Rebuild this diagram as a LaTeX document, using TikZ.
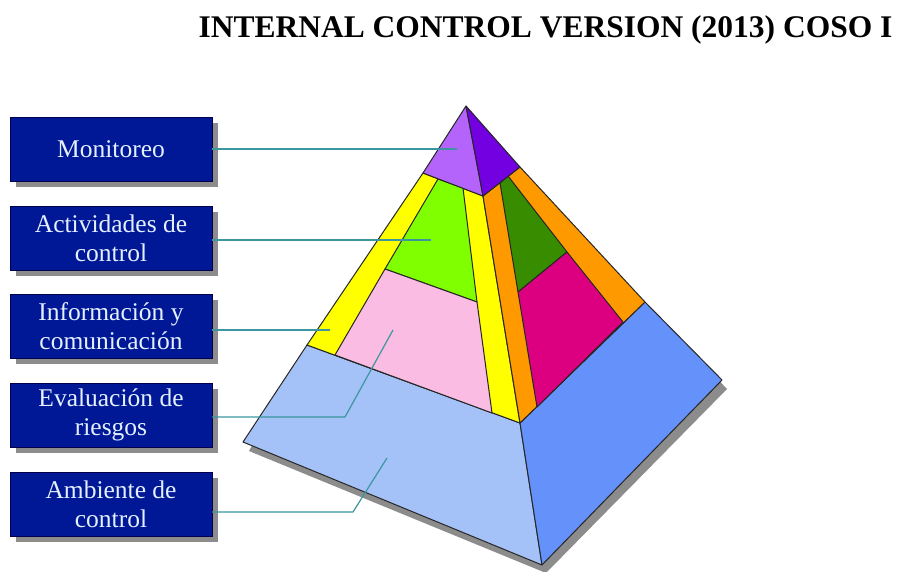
\documentclass[tikz,border=0pt]{standalone}
\usepackage{fontspec}
\setmainfont{Liberation Serif}
\usepackage{tikz}
\usetikzlibrary{shadows}

\definecolor{lilac}{RGB}{180,100,250}
\definecolor{violet}{RGB}{115,0,225}
\definecolor{lemon}{RGB}{255,255,0}
\definecolor{lime}{RGB}{128,255,0}
\definecolor{rose}{RGB}{250,188,226}
\definecolor{amber}{RGB}{255,153,0}
\definecolor{leaf}{RGB}{56,140,0}
\definecolor{fuchsia}{RGB}{220,0,128}
\definecolor{baselight}{RGB}{164,194,248}
\definecolor{basedark}{RGB}{100,145,250}
\definecolor{boxblue}{RGB}{0,24,150}
\definecolor{boxtext}{RGB}{228,240,255}
\definecolor{pointer}{RGB}{60,150,160}

\tikzset{
  face/.style={draw=black!85, line width=1pt, line join=round},
  compbox/.style={draw=black!70!blue, fill=boxblue, text=boxtext,
    minimum width=202pt, minimum height=64pt, inner sep=0pt, align=center,
    font=\fontsize{25.5}{29}\selectfont,
    drop shadow={shadow xshift=6pt, shadow yshift=-6pt, fill=black!45, opacity=1}},
  link/.style={pointer, line width=1.2pt}
}

\begin{document}
\begin{tikzpicture}[x=1pt,y=-1pt]

\useasboundingbox (0,0) rectangle (903,571);

\node[anchor=base west, font=\bfseries\fontsize{31.5}{36}\selectfont] (title) at (195,37) {INTERNAL CONTROL VERSION (2013) COSO I};

% corners of the pyramid
\coordinate (apex) at (466,106);
\coordinate (capL) at (423,173);
\coordinate (capF) at (483,196);
\coordinate (capR) at (520,167);
\coordinate (L) at (307,345);
\coordinate (F) at (520,423);
\coordinate (R) at (645,302);
\coordinate (BL) at (243,442);
\coordinate (BF) at (542,565);
\coordinate (BR) at (722,380);

% shadow under the base
\fill[black!45] ([xshift=6pt,yshift=-9pt]BL) -- ([xshift=4pt,yshift=-8pt]BF)
  -- ([xshift=5pt,yshift=-9pt]BR) -- (R) -- (L) -- cycle;

% base
\filldraw[face, fill=baselight] (L) -- (F) -- (BF) -- (BL) -- cycle;
\filldraw[face, fill=basedark] (F) -- (R) -- (BR) -- (BF) -- cycle;

% left face
\filldraw[face, fill=lemon] (capL) -- (capF) -- (F) -- (L) -- cycle;
\filldraw[face, fill=lime] (438,179) -- (463,188) -- (477,302) -- (385,269) -- cycle;
\filldraw[face, fill=rose] (385,269) -- (477,302) -- (492,413) -- (335,355) -- cycle;

% right face
\filldraw[face, fill=amber] (capF) -- (capR) -- (R) -- (F) -- cycle;
\filldraw[face, fill=leaf] (500,183) -- (508,176) -- (567,252) -- (518,292) -- cycle;
\filldraw[face, fill=fuchsia] (518,292) -- (567,252) -- (623,322) -- (537,407) -- cycle;

% top
\filldraw[face, fill=lilac] (apex) -- (capL) -- (capF) -- cycle;
\filldraw[face, fill=violet] (apex) -- (capF) -- (capR) -- cycle;

% boxes
\node[compbox] (mon) at (111,149) {Monitoreo};
\node[compbox] (act) at (111,238) {Actividades de\\control};
\node[compbox] (inf) at (111,326) {Información y\\comunicación};
\node[compbox] (eva) at (111,415) {Evaluación de\\riesgos};
\node[compbox] (amb) at (111,504) {Ambiente de\\control};

% pointers
\coordinate (monTip) at (457,149);
\coordinate (actTip) at (431,240);
\coordinate (infTip) at (330,330);
\coordinate (evaBend) at (345,417);
\coordinate (evaTip) at (393,330);
\coordinate (ambBend) at (353,512);
\coordinate (ambTip) at (387,458);

\draw[link] (mon.east |- monTip) -- (monTip);
\draw[link] (act.east |- actTip) -- (actTip);
\draw[link] (inf.east |- infTip) -- (infTip);
\draw[link] (eva.east |- evaBend) -- (evaBend) -- (evaTip);
\draw[link] (amb.east |- ambBend) -- (ambBend) -- (ambTip);

\end{tikzpicture}
\end{document}
